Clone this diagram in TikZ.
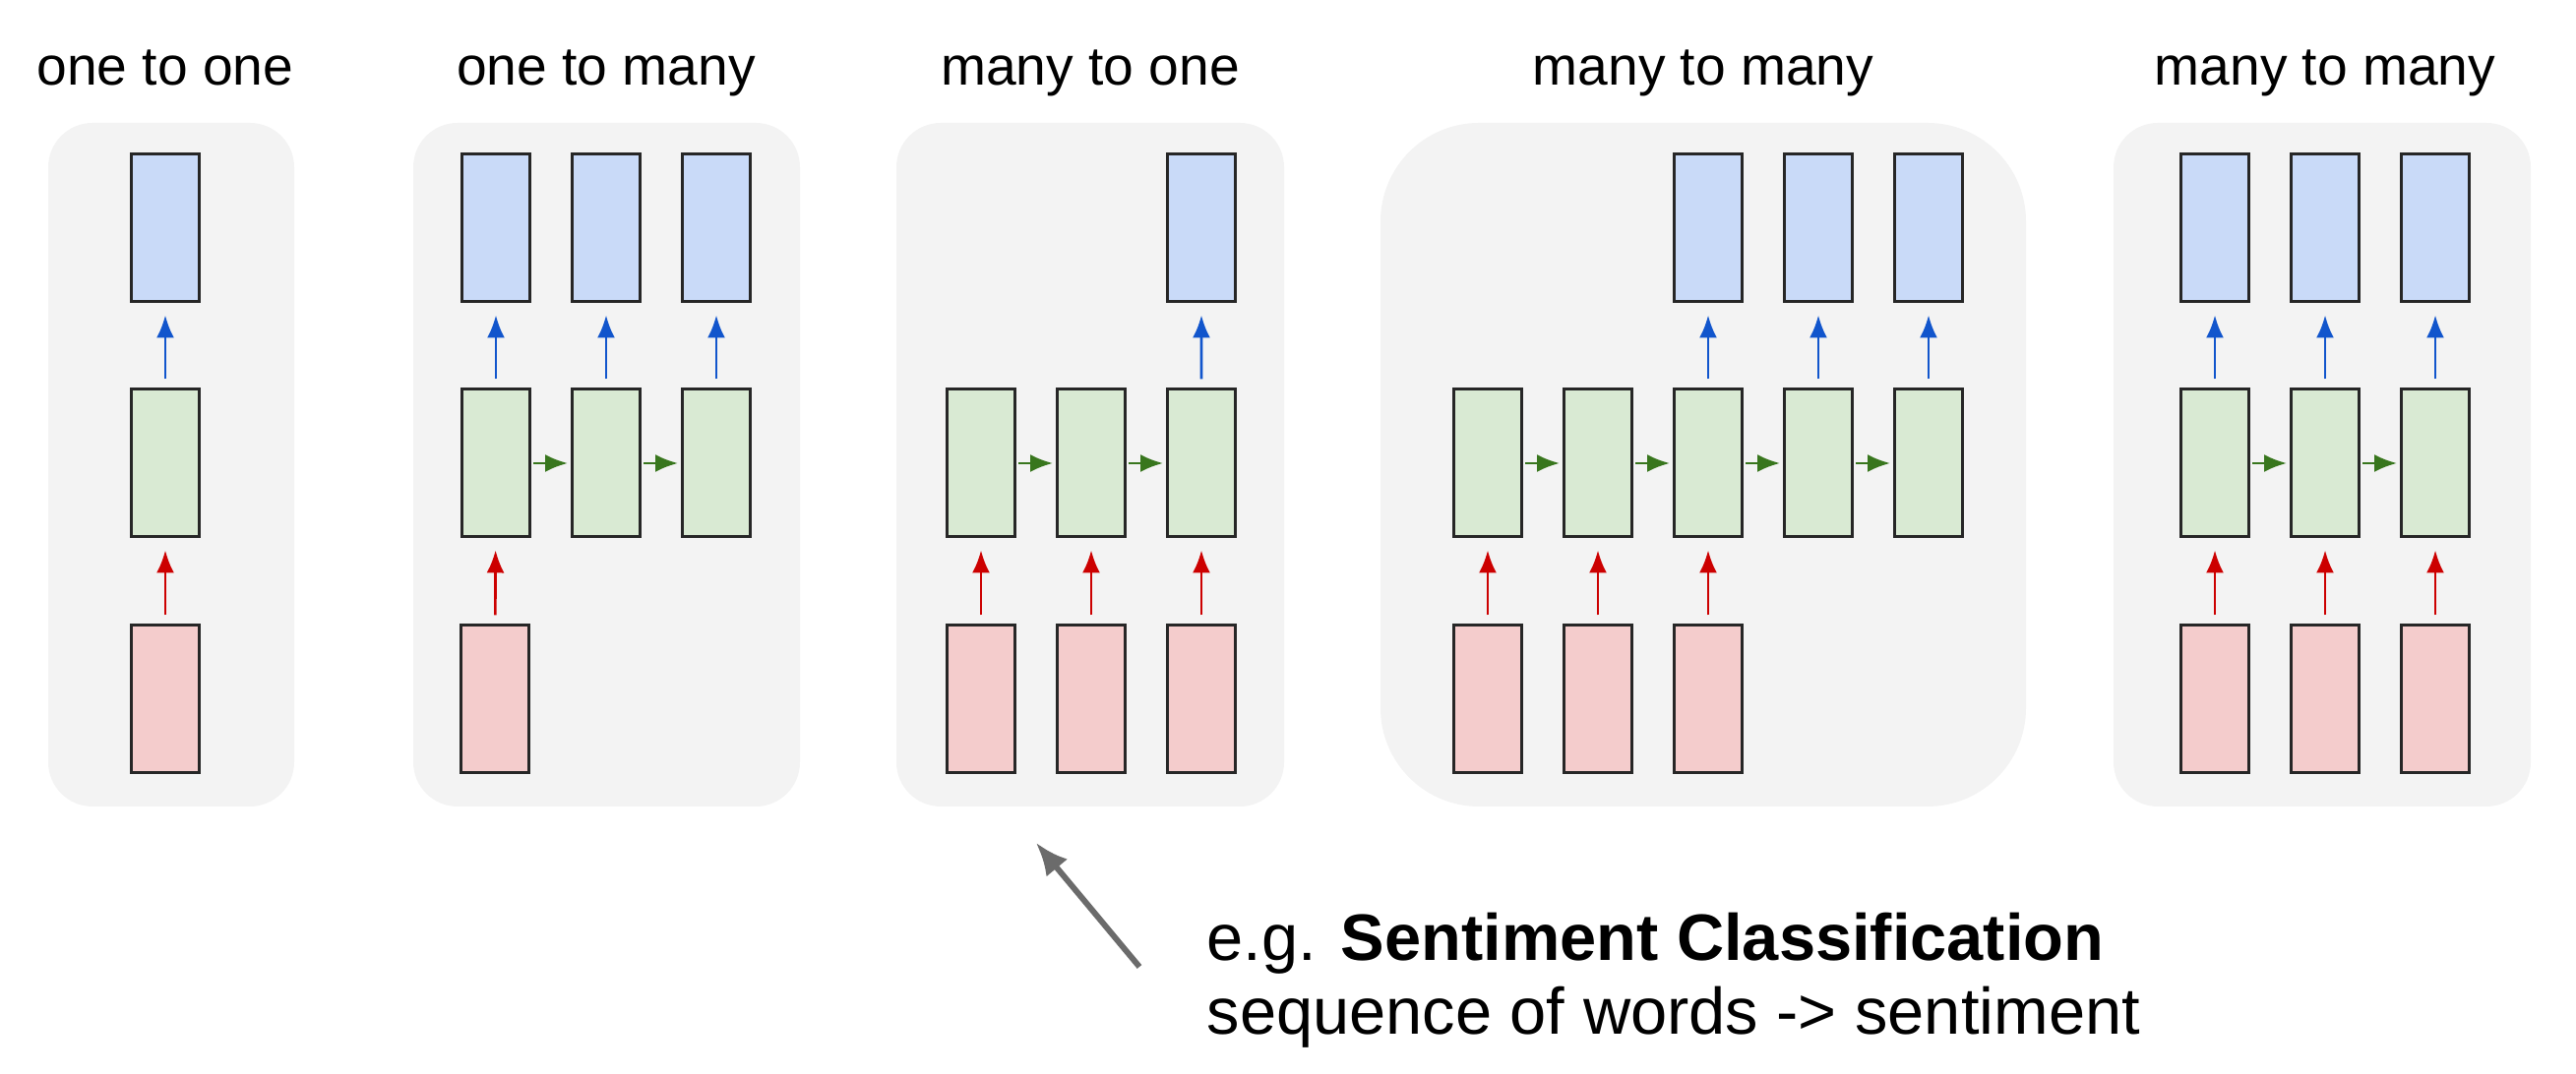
\documentclass[tikz,border=0pt]{standalone}
\usepackage{fontspec}
\setmainfont{Liberation Sans}
\usetikzlibrary{arrows.meta}
\definecolor{panelgray}{HTML}{F3F3F3}
\definecolor{inred}{HTML}{F4CCCC}
\definecolor{hidgreen}{HTML}{D9EAD3}
\definecolor{outblue}{HTML}{C9DAF8}
\definecolor{arrred}{HTML}{CC0000}
\definecolor{arrgreen}{HTML}{38761D}
\definecolor{arrblue}{HTML}{1155CC}
\definecolor{pointgray}{HTML}{6B6B6B}
\tikzset{
    cell/.style={draw=black!85,line width=0.85pt,minimum width=0.69cm,minimum height=1.5cm,inner sep=0pt},
    inbox/.style={cell,fill=inred},
    hidbox/.style={cell,fill=hidgreen},
    outbox/.style={cell,fill=outblue},
    panel/.style={fill=panelgray,rounded corners=0.45cm},
    title/.style={anchor=base,font=\fontsize{15.7}{18}\selectfont},
    note/.style={anchor=base west,inner sep=0pt,font=\fontsize{19}{21}\selectfont},
    inarrow/.style={->,arrred,line width=0.75pt,shorten <=0.09cm,shorten >=0.12cm},
    outarrow/.style={->,arrblue,line width=0.75pt,shorten <=0.09cm,shorten >=0.12cm},
    recarrow/.style={->,arrgreen,line width=0.75pt,shorten <=0.02cm,shorten >=0.03cm}
}
\begin{document}
\begin{tikzpicture}[>={Latex[length=0.23cm,width=0.18cm]}]
    \useasboundingbox (0,0) rectangle (26.18,10.92);
    % grey panels
    \fill[panel] (0.49,2.72) rectangle (2.99,9.67);
    \fill[panel] (4.20,2.72) rectangle (8.13,9.67);
    \fill[panel] (9.11,2.72) rectangle (13.05,9.67);
    \fill[panel,rounded corners=1cm] (14.03,2.72) rectangle (20.59,9.67);
    \fill[panel] (21.48,2.72) rectangle (25.72,9.67);
    % titles
    \node[title] (t1) at (1.68,10.05) {one to one};
    \node[title] (t2) at (6.16,10.05) {one to many};
    \node[title] (t3) at (11.08,10.05) {many to one};
    \node[title] (t4) at (17.31,10.05) {many to many};
    \node[title] (t5) at (23.63,10.05) {many to many};
    % one to one
    \node[hidbox] (a-h1) at (1.68,6.21) {};
    \node[inbox] (a-x1) at (1.68,3.81) {};
    \node[outbox] (a-y1) at (1.68,8.60) {};
    \draw[inarrow] (a-x1)--(a-h1);
    \draw[outarrow] (a-h1)--(a-y1);
    % one to many
    \foreach \i in {1,2,3}
    {
        \node[hidbox] (b-h\i) at ({5.04+1.12*(\i-1)},6.21) {};
        \node[outbox] (b-y\i) at ({5.04+1.12*(\i-1)},8.60) {};
        \draw[outarrow] (b-h\i)--(b-y\i);
    }
    \node[inbox] (b-x1) at (5.03,3.81) {};
    \draw[inarrow] (b-x1)--(b-h1);
    \foreach \i/\j in {1/2,2/3}
        \draw[recarrow] (b-h\i)--(b-h\j);
    % many to one
    \foreach \i in {1,2,3}
    {
        \node[hidbox] (c-h\i) at ({9.97+1.12*(\i-1)},6.21) {};
        \node[inbox] (c-x\i) at ({9.97+1.12*(\i-1)},3.81) {};
        \draw[inarrow] (c-x\i)--(c-h\i);
    }
    \node[outbox] (c-y3) at (12.21,8.60) {};
    \draw[outarrow] (c-h3)--(c-y3);
    \foreach \i/\j in {1/2,2/3}
        \draw[recarrow] (c-h\i)--(c-h\j);
    % many to many, delayed
    \foreach \i in {1,...,5}
        \node[hidbox] (d-h\i) at ({15.12+1.12*(\i-1)},6.21) {};
    \foreach \i in {1,2,3}
    {
        \node[inbox] (d-x\i) at ({15.12+1.12*(\i-1)},3.81) {};
        \draw[inarrow] (d-x\i)--(d-h\i);
    }
    \foreach \i in {3,4,5}
    {
        \node[outbox] (d-y\i) at ({15.12+1.12*(\i-1)},8.60) {};
        \draw[outarrow] (d-h\i)--(d-y\i);
    }
    \foreach \i/\j in {1/2,2/3,3/4,4/5}
        \draw[recarrow] (d-h\i)--(d-h\j);
    % many to many, synced
    \foreach \i in {1,2,3}
    {
        \node[hidbox] (e-h\i) at ({22.51+1.12*(\i-1)},6.21) {};
        \node[inbox] (e-x\i) at ({22.51+1.12*(\i-1)},3.81) {};
        \node[outbox] (e-y\i) at ({22.51+1.12*(\i-1)},8.60) {};
        \draw[inarrow] (e-x\i)--(e-h\i);
        \draw[outarrow] (e-h\i)--(e-y\i);
    }
    \foreach \i/\j in {1/2,2/3}
        \draw[recarrow] (e-h\i)--(e-h\j);
    % note
    \coordinate (ptail) at (11.58,1.09);
    \coordinate (ptip) at (10.53,2.35);
    \draw[-{Latex[length=0.33cm,width=0.28cm]},pointgray,line width=1.7pt] (ptail)--(ptip);
    \node[note] (eg1) at (12.26,1.15) {e.g. \textbf{Sentiment Classification}};
    \node[note] (eg2) at (12.26,0.40) {sequence of words -> sentiment};
\end{tikzpicture}
\end{document}
